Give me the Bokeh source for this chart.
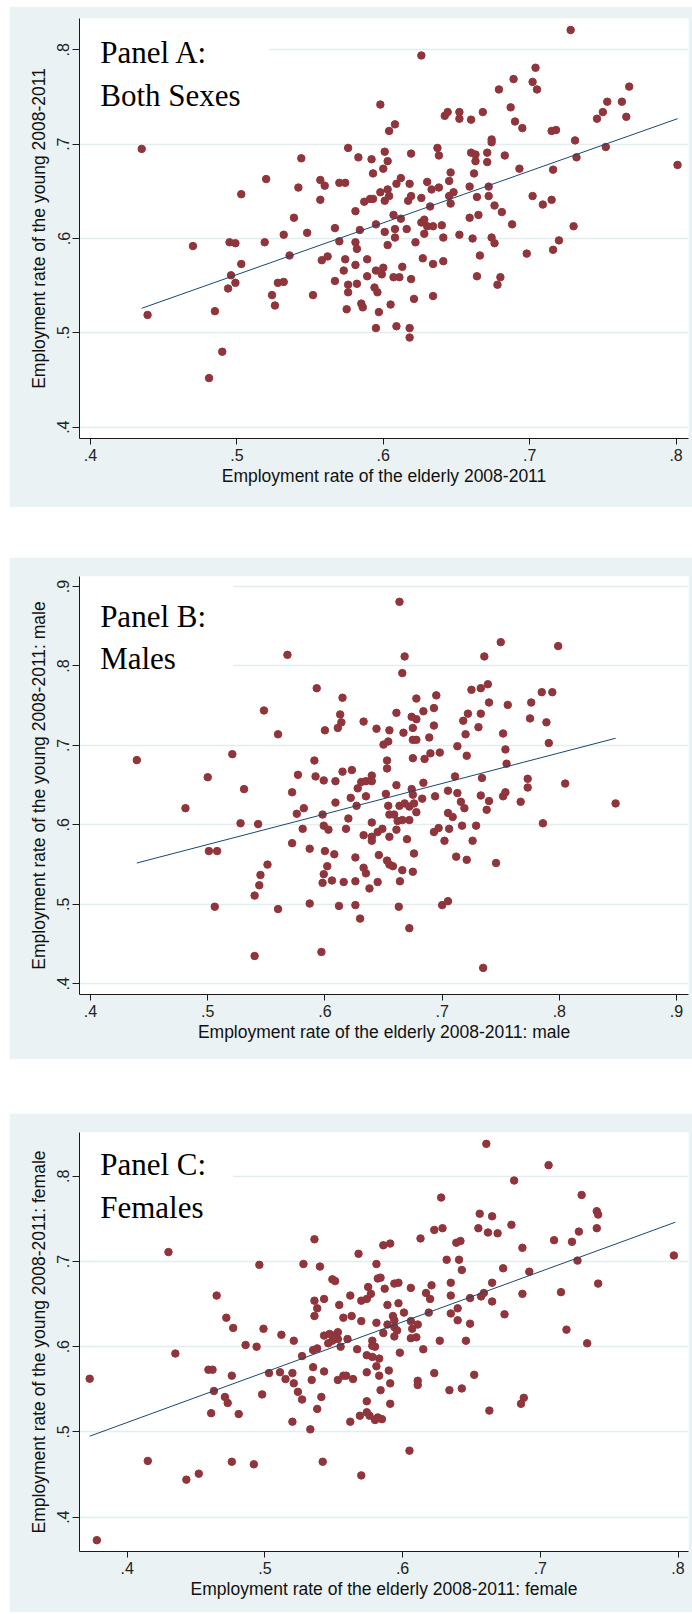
from bokeh.plotting import figure
from bokeh.models import (FixedTicker, CustomJSTickFormatter, Label, BoxAnnotation,
                          Range1d, Spacer)
from bokeh.layouts import column
from bokeh.embed import file_html
from bokeh.resources import INLINE

# ---------------- data ----------------
a_points = [
    (0.435,0.695),(0.439,0.519),(0.470,0.592),(0.485,0.523),(0.490,0.480),(0.481,0.452),(0.495,0.596),(0.499,0.595),
    (0.503,0.647),(0.503,0.573),(0.496,0.561),(0.499,0.553),(0.494,0.547),(0.519,0.596),(0.520,0.663),(0.524,0.540),
    (0.526,0.529),(0.528,0.553),(0.532,0.554),(0.532,0.604),(0.536,0.582),(0.539,0.622),(0.544,0.685),(0.542,0.654),
    (0.548,0.606),(0.552,0.540),(0.557,0.662),(0.560,0.656),(0.557,0.641),(0.558,0.577),(0.562,0.581),(0.567,0.611),
    (0.570,0.659),(0.574,0.659),(0.570,0.597),(0.567,0.555),(0.573,0.566),(0.574,0.578),(0.576,0.551),(0.576,0.543),
    (0.575,0.525),(0.576,0.696),(0.583,0.686),(0.581,0.629),(0.584,0.609),(0.581,0.596),(0.582,0.589),(0.581,0.572),
    (0.582,0.552),(0.585,0.531),(0.586,0.527),(0.589,0.578),(0.589,0.560),(0.587,0.639),(0.591,0.642),(0.593,0.642),
    (0.592,0.684),(0.593,0.669),(0.598,0.742),(0.595,0.615),(0.594,0.548),(0.596,0.543),(0.597,0.522),(0.595,0.505),
    (0.595,0.566),(0.599,0.562),(0.600,0.569),(0.600,0.674),(0.598,0.649),(0.601,0.692),(0.601,0.640),(0.601,0.607),
    (0.603,0.593),(0.604,0.714),(0.603,0.682),(0.603,0.652),(0.604,0.645),(0.605,0.530),
    (0.608,0.721),(0.626,0.794),(0.728,0.821),(0.704,0.781),(0.689,0.769),(0.702,0.766),(0.705,0.758),(0.679,0.758),
    (0.687,0.739),(0.690,0.724),(0.695,0.717),(0.668,0.734),(0.642,0.730),(0.644,0.734),(0.652,0.734),(0.652,0.727),
    (0.660,0.726),(0.674,0.705),(0.674,0.702),(0.637,0.696),(0.638,0.688),(0.619,0.690),(0.660,0.691),(0.663,0.689),
    (0.663,0.682),(0.671,0.691),(0.671,0.681),(0.683,0.688),(0.693,0.674),(0.662,0.669),(0.646,0.670),(0.645,0.661),
    (0.630,0.660),(0.612,0.664),(0.609,0.658),(0.618,0.658),(0.619,0.645),(0.617,0.640),(0.626,0.643),(0.633,0.652),
    (0.638,0.654),(0.645,0.645),(0.648,0.649),(0.646,0.637),(0.659,0.655),(0.664,0.644),(0.672,0.655),(0.672,0.645),
    (0.632,0.634),(0.676,0.635),(0.681,0.628),(0.688,0.615),(0.702,0.645),(0.709,0.636),(0.715,0.641),(0.716,0.673),
    (0.731,0.704),(0.732,0.686),(0.752,0.697),(0.801,0.678),(0.715,0.714),(0.718,0.715),(0.746,0.727),(0.750,0.734),
    (0.753,0.745),(0.763,0.745),(0.766,0.729),(0.768,0.761),(0.607,0.625),(0.612,0.621),(0.608,0.610),(0.608,0.601),
    (0.616,0.610),(0.626,0.617),(0.628,0.620),(0.630,0.613),(0.628,0.605),(0.634,0.613),(0.640,0.614),(0.641,0.601),
    (0.652,0.604),(0.661,0.600),(0.659,0.622),(0.665,0.625),(0.622,0.596),(0.674,0.601),(0.676,0.595),(0.627,0.579),
    (0.634,0.573),(0.641,0.576),(0.613,0.570),(0.607,0.559),(0.611,0.559),(0.619,0.557),(0.621,0.536),(0.634,0.539),
    (0.609,0.507),(0.618,0.505),(0.618,0.495),(0.666,0.582),(0.664,0.560),(0.680,0.559),(0.678,0.551),(0.698,0.584),
    (0.716,0.588),(0.720,0.598),(0.730,0.613),
]
b_points = [
    (0.4395,0.6815),(0.481,0.621),(0.500,0.660),(0.501,0.567),(0.508,0.567),(0.506,0.497),(0.521,0.689),(0.528,0.602),
    (0.531,0.645),(0.543,0.601),(0.548,0.744),(0.551,0.550),(0.545,0.537),(0.544,0.524),(0.540,0.511),(0.540,0.435),
    (0.560,0.494),(0.560,0.714),(0.568,0.814),(0.572,0.641),(0.576,0.614),(0.582,0.621),(0.572,0.577),(0.581,0.595),
    (0.577,0.663),(0.587,0.570),(0.587,0.501),(0.591,0.681),(0.592,0.661),(0.593,0.772),(0.599,0.656),(0.600,0.719),
    (0.598,0.613),(0.599,0.599),(0.603,0.594),(0.600,0.567),(0.608,0.563),(0.602,0.548),(0.599,0.538),(0.598,0.527),
    (0.606,0.530),(0.597,0.440),(0.612,0.498),(0.609,0.628),(0.609,0.655),(0.615,0.667),(0.615,0.760),(0.613,0.739),
    (0.614,0.729),(0.611,0.722),(0.618,0.595),(0.620,0.608),(0.616,0.528),(0.622,0.634),(0.623,0.669),(0.627,0.624),
    (0.628,0.646),(0.626,0.559),(0.626,0.529),(0.626,0.499),(0.630,0.482),(0.633,0.730),(0.633,0.546),(0.635,0.539),
    (0.631,0.654),(0.635,0.655),(0.640,0.655),(0.640,0.662),(0.635,0.636),(0.633,0.587),(0.640,0.585),(0.640,0.580),
    (0.645,0.591),(0.649,0.595),(0.640,0.603),(0.646,0.562),(0.638,0.520),(0.645,0.528),(0.644,0.721),(0.650,0.701),
    (0.654,0.705),(0.653,0.681),(0.653,0.671),(0.652,0.639),(0.654,0.624),(0.655,0.613),(0.655,0.719),(0.653,0.555),
    (0.655,0.550),(0.655,0.585),
    (0.6636,0.8807),(0.668,0.812),(0.666,0.791),(0.750,0.830),(0.736,0.812),(0.799,0.825),(0.725,0.770),(0.733,0.772),
    (0.739,0.777),(0.740,0.754),(0.756,0.751),(0.785,0.767),(0.794,0.767),(0.776,0.754),(0.775,0.734),(0.789,0.729),
    (0.791,0.703),(0.678,0.759),(0.695,0.763),(0.693,0.747),(0.684,0.743),(0.661,0.741),(0.674,0.736),(0.678,0.733),
    (0.675,0.722),(0.667,0.716),(0.693,0.725),(0.675,0.707),(0.678,0.707),(0.689,0.710),(0.675,0.684),(0.685,0.683),
    (0.690,0.690),(0.698,0.691),(0.713,0.699),(0.722,0.740),(0.718,0.731),(0.720,0.714),(0.721,0.687),(0.731,0.723),
    (0.733,0.740),(0.752,0.715),(0.754,0.695),(0.755,0.677),(0.711,0.661),(0.734,0.659),(0.773,0.658),(0.773,0.647),
    (0.805,0.652),(0.848,0.627),(0.767,0.629),(0.752,0.636),(0.754,0.641),(0.786,0.602),(0.746,0.552),(0.661,0.650),
    (0.684,0.653),(0.674,0.645),(0.675,0.638),(0.683,0.633),(0.694,0.636),(0.705,0.643),(0.713,0.640),(0.716,0.629),
    (0.719,0.621),(0.733,0.637),(0.740,0.630),(0.738,0.619),(0.705,0.615),(0.709,0.610),(0.717,0.599),(0.729,0.599),
    (0.706,0.595),(0.697,0.596),(0.693,0.591),(0.702,0.580),(0.726,0.580),(0.712,0.560),(0.721,0.556),(0.6636,0.624),
    (0.668,0.627),(0.672,0.623),(0.676,0.627),(0.678,0.616),(0.659,0.613),(0.662,0.605),(0.666,0.606),(0.672,0.606),
    (0.661,0.594),(0.670,0.582),(0.676,0.564),(0.675,0.541),(0.666,0.543),(0.664,0.529),(0.658,0.548),(0.663,0.497),
    (0.672,0.470),(0.700,0.499),(0.705,0.504),(0.735,0.420),
]
c_points = [
    (0.3728,0.5624),(0.378,0.373),(0.415,0.466),(0.430,0.711),(0.435,0.592),(0.443,0.444),(0.452,0.451),(0.459,0.573),
    (0.462,0.573),(0.463,0.548),(0.461,0.522),(0.465,0.660),(0.472,0.634),(0.477,0.622),(0.471,0.541),(0.473,0.534),
    (0.476,0.566),(0.476,0.465),(0.481,0.521),(0.486,0.602),(0.494,0.600),(0.492,0.462),(0.496,0.696),(0.499,0.621),
    (0.498,0.544),(0.503,0.569),(0.511,0.570),(0.512,0.614),(0.515,0.562),(0.521,0.607),(0.520,0.569),(0.521,0.557),
    (0.524,0.547),(0.527,0.538),(0.520,0.512),(0.533,0.503),(0.542,0.465),(0.528,0.697),(0.536,0.726),(0.540,0.694),
    (0.527,0.589),(0.535,0.596),(0.538,0.598),(0.535,0.576),(0.534,0.561),(0.543,0.571),(0.541,0.541),(0.538,0.527),
    (0.536,0.654),(0.538,0.645),(0.536,0.636),(0.543,0.656),(0.549,0.679),(0.551,0.677),(0.543,0.613),(0.546,0.604),
    (0.547,0.615),(0.550,0.613),(0.553,0.617),(0.549,0.607),(0.553,0.609),(0.554,0.649),(0.555,0.600),(0.557,0.634),
    (0.563,0.636),(0.560,0.609),(0.553,0.561),(0.557,0.566),(0.559,0.566),(0.564,0.562),(0.562,0.660),(0.562,0.512),
    (0.568,0.709),(0.570,0.654),(0.574,0.656),(0.567,0.597),(0.570,0.630),(0.575,0.670),(0.577,0.662),(0.574,0.570),
    (0.574,0.536),(0.569,0.519),(0.574,0.523),(0.576,0.519),(0.580,0.514),(0.585,0.515),(0.582,0.517),(0.570,0.449),
    (0.578,0.607),(0.580,0.600),(0.578,0.601),(0.574,0.590),(0.578,0.588),(0.581,0.697),(0.582,0.680),(0.584,0.681),
    (0.581,0.628),(0.583,0.586),(0.581,0.577),(0.583,0.566),(0.584,0.549),(0.586,0.719),(0.591,0.721),(0.587,0.668),
    (0.589,0.649),(0.586,0.616),(0.589,0.626),(0.590,0.572),(0.591,0.557),(0.591,0.533),
    (0.6608,0.838),(0.706,0.813),(0.681,0.795),(0.628,0.775),(0.730,0.778),(0.741,0.759),(0.742,0.755),(0.741,0.739),
    (0.728,0.735),(0.723,0.723),(0.710,0.725),(0.679,0.743),(0.687,0.716),(0.656,0.756),(0.665,0.753),(0.655,0.739),
    (0.662,0.734),(0.669,0.733),(0.623,0.737),(0.629,0.739),(0.613,0.727),(0.639,0.722),(0.642,0.724),(0.632,0.702),
    (0.641,0.702),(0.643,0.690),(0.673,0.692),(0.692,0.688),(0.727,0.701),(0.797,0.707),(0.742,0.674),(0.715,0.664),
    (0.687,0.662),(0.665,0.675),(0.659,0.663),(0.657,0.659),(0.665,0.653),(0.674,0.638),(0.649,0.657),(0.635,0.675),
    (0.635,0.660),(0.621,0.672),(0.606,0.669),(0.617,0.663),(0.620,0.656),(0.597,0.675),(0.594,0.674),(0.597,0.651),
    (0.601,0.640),(0.606,0.630),(0.593,0.636),(0.594,0.631),(0.619,0.640),(0.635,0.639),(0.640,0.645),(0.640,0.631),
    (0.611,0.626),(0.607,0.621),(0.594,0.623),(0.596,0.619),(0.594,0.612),(0.606,0.610),(0.610,0.611),(0.627,0.607),
    (0.646,0.607),(0.649,0.627),(0.615,0.597),(0.598,0.593),(0.719,0.620),(0.734,0.604),(0.623,0.569),(0.652,0.567),
    (0.611,0.560),(0.611,0.555),(0.634,0.549),(0.643,0.551),(0.663,0.525),(0.686,0.533),(0.688,0.540),(0.605,0.478),
]

a_elderly = [p[0] for p in a_points]
a_young = [p[1] for p in a_points]
b_elderly = [p[0] for p in b_points]
b_young = [p[1] for p in b_points]
c_elderly = [p[0] for p in c_points]
c_young = [p[1] for p in c_points]

# fitted lines (end points)
a_fit_x = [0.435, 0.801]
a_fit_y = [0.526, 0.727]
b_fit_x = [0.4395, 0.848]
b_fit_y = [0.552, 0.709]
c_fit_x = [0.3728, 0.798]
c_fit_y = [0.495, 0.746]

a_xticks = [0.4, 0.5, 0.6, 0.7, 0.8]
a_yticks = [0.4, 0.5, 0.6, 0.7, 0.8]
b_xticks = [0.4, 0.5, 0.6, 0.7, 0.8, 0.9]
b_yticks = [0.4, 0.5, 0.6, 0.7, 0.8, 0.9]
c_xticks = [0.4, 0.5, 0.6, 0.7, 0.8]
c_yticks = [0.4, 0.5, 0.6, 0.7, 0.8]
a_xlabels = [".4", ".5", ".6", ".7", ".8"]
a_ylabels = [".4", ".5", ".6", ".7", ".8"]
b_xlabels = [".4", ".5", ".6", ".7", ".8", ".9"]
b_ylabels = [".4", ".5", ".6", ".7", ".8", ".9"]
c_xlabels = [".4", ".5", ".6", ".7", ".8"]
c_ylabels = [".4", ".5", ".6", ".7", ".8"]

# ---------------- styling ----------------
BG = "#EAF2F3"
GRID = "#E4EDEE"
MAROON = "#90353B"
NAVY = "#1A476F"
AXIS = "#1a1a1a"
SANS = "Liberation Sans"
SERIF = "Liberation Serif"
FIG_W = 683


def fmt(ticks, labels):
    return CustomJSTickFormatter(
        args=dict(tv=ticks, tl=labels),
        code="const i = tv.findIndex(v => Math.abs(v - tick) < 1e-9); return i >= 0 ? tl[i] : '';")


def panel(xs, ys, fx, fy, xt, xl, yt, yl, xtitle, ytitle, lines, cfg):
    p = figure(width=FIG_W, height=cfg["height"], output_backend="svg", toolbar_location=None,
               title=None,
               x_range=Range1d(*cfg["xr"]), y_range=Range1d(*cfg["yr"]),
               min_border_left=70, min_border_right=4,
               min_border_top=cfg["top"], min_border_bottom=cfg["bottom"])
    p.background_fill_color = "white"
    p.border_fill_color = BG
    p.outline_line_color = None

    p.xgrid.visible = False
    p.ygrid.grid_line_color = GRID
    p.ygrid.grid_line_width = 1.3

    for ax, ticks, labs in ((p.xaxis[0], xt, xl), (p.yaxis[0], yt, yl)):
        ax.ticker = FixedTicker(ticks=ticks)
        ax.formatter = fmt(ticks, labs)
        ax.axis_line_color = AXIS
        ax.major_tick_line_color = AXIS
        ax.minor_tick_line_color = None
        ax.major_tick_in = 0
        ax.major_label_text_font = SANS
        ax.major_label_text_font_size = "16px"
        ax.major_label_text_color = "#222222"
        ax.axis_label_text_font = SANS
        ax.axis_label_text_font_size = "17.5px"
        ax.axis_label_text_font_style = "normal"
        ax.axis_label_text_color = "#111111"
    p.xaxis.major_tick_out = 6
    p.xaxis.major_label_standoff = 4
    p.xaxis.axis_label_standoff = 2
    p.yaxis.major_tick_out = 7
    p.yaxis.major_label_standoff = 3
    p.yaxis.axis_label_standoff = 6
    p.yaxis.major_label_orientation = "vertical"
    p.xaxis.axis_label = xtitle
    p.yaxis.axis_label = ytitle

    box = BoxAnnotation(left=cfg["xr"][0], right=cfg["box_right"], bottom=cfg["box_bottom"],
                        top=cfg["yr"][1], fill_color="white", fill_alpha=1.0,
                        line_color=None, level="underlay")
    p.add_layout(box)

    p.scatter(xs, ys, size=7.5, fill_color=MAROON, line_color=MAROON)
    p.line(fx, fy, line_color=NAVY, line_width=1.0)

    for txt, yb in zip(lines, cfg["text_y"]):
        p.add_layout(Label(x=cfg["text_x"], y=yb, text=txt, text_font=SERIF,
                           text_font_size="31px", text_color="black",
                           text_baseline="alphabetic", text_align="left"))
    return p


pA = panel(a_elderly, a_young, a_fit_x, a_fit_y, a_xticks, a_xlabels, a_yticks, a_ylabels,
           "Employment rate of the elderly 2008-2011",
           "Employment rate of the young 2008-2011",
           ["Panel A:", "Both Sexes"],
           dict(height=501, top=12, bottom=69, xr=(0.3925, 0.8085), yr=(0.388, 0.8332),
                box_right=0.5223, box_bottom=0.730, text_x=0.4067, text_y=[0.7972, 0.7513]))

pB = panel(b_elderly, b_young, b_fit_x, b_fit_y, b_xticks, b_xlabels, b_yticks, b_ylabels,
           "Employment rate of the elderly 2008-2011: male",
           "Employment rate of the young 2008-2011: male",
           ["Panel B:", "Males"],
           dict(height=502, top=19, bottom=65, xr=(0.3906, 0.9102), yr=(0.3865, 0.9126),
                box_right=0.522, box_bottom=0.769, text_x=0.4082, text_y=[0.8622, 0.8094]))

pC = panel(c_elderly, c_young, c_fit_x, c_fit_y, c_xticks, c_xlabels, c_yticks, c_ylabels,
           "Employment rate of the elderly 2008-2011: female",
           "Employment rate of the young 2008-2011: female",
           ["Panel C:", "Females"],
           dict(height=499, top=19, bottom=61, xr=(0.3654, 0.8076), yr=(0.3597, 0.8513),
                box_right=0.477, box_bottom=0.737, text_x=0.3804, text_y=[0.8133, 0.7636]))

layout = column(pA, Spacer(width=FIG_W, height=50), pB, Spacer(width=FIG_W, height=54), pC,
                margin=(6, 0, 0, 9))

open("out.html", "w").write(file_html(layout, INLINE))
